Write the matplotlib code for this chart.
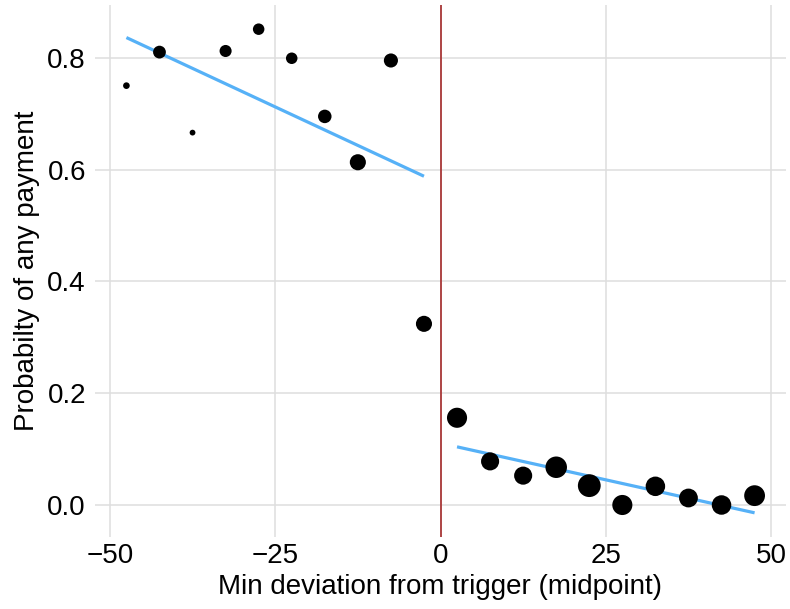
import numpy as np
import matplotlib
matplotlib.use("Agg")
import matplotlib.pyplot as plt

plt.rcParams['font.family'] = ['Liberation Sans', 'DejaVu Sans']

# ---- data ----
bin_mid = [-47.5, -42.5, -37.5, -32.5, -27.5, -22.5, -17.5, -12.5, -7.5, -2.5,
           2.5, 7.5, 12.5, 17.5, 22.5, 27.5, 32.5, 37.5, 42.5, 47.5]
prob_any = [0.750, 0.810, 0.666, 0.812, 0.851, 0.799, 0.695, 0.613, 0.795, 0.324,
            0.156, 0.078, 0.0525, 0.0675, 0.0346, 0.0, 0.0334, 0.0125, 0.0, 0.0167]
n_obs = [11, 76, 10, 63, 54, 54, 90, 153, 103, 153,
         286, 214, 214, 343, 400, 286, 263, 238, 263, 314]
fit_left_x = [-47.5, -2.5]
fit_left_y = [0.836, 0.588]
fit_right_x = [2.5, 47.5]
fit_right_y = [0.104, -0.014]
cutoff = 0.0
xticks = [-50, -25, 0, 25, 50]
yticks = [0.0, 0.2, 0.4, 0.6, 0.8]

DPI = 100
fig = plt.figure(figsize=(7.9, 6.09), dpi=DPI)
ax = fig.add_axes([95/790, 1-537/609, (786-95)/790, (537-5)/609])

# size scale similar to ggplot's area palette
n = np.asarray(n_obs, float)
t = (n - n.min()) / (n.max() - n.min())
d_px = 5.8 + 17 * np.sqrt(t)
d_pt = d_px * 72 / DPI
ax.scatter(bin_mid, prob_any, s=d_pt**2, color='black', linewidths=0, zorder=3)

ax.plot(fit_left_x, fit_left_y, color='#56B1F7', lw=2.3, solid_capstyle='butt', zorder=2)
ax.plot(fit_right_x, fit_right_y, color='#56B1F7', lw=2.3, solid_capstyle='butt', zorder=2)
ax.axvline(cutoff, color='#A52A2A', lw=1.2, zorder=1)

# ggplot-like 5% expansion
xs = np.array(bin_mid)
ys = np.concatenate([prob_any, fit_left_y, fit_right_y])
xr = xs.max() - xs.min()
yr = ys.max() - ys.min()
ax.set_xlim(xs.min() - 0.05*xr, xs.max() + 0.05*xr)
ax.set_ylim(ys.min() - 0.05*yr, ys.max() + 0.05*yr)

ax.set_xticks(xticks)
ax.set_xticklabels(['\u221250', '\u221225', '0', '25', '50'])
ax.set_yticks(yticks)
ax.set_yticklabels([f'{v:.1f}' for v in yticks])
ax.grid(True, color='#DEDEDE', lw=1.1)
ax.set_axisbelow(True)
for s in ax.spines.values():
    s.set_visible(False)
ax.tick_params(length=0, labelsize=20, colors='#000000')
ax.tick_params(axis='x', pad=4)
ax.tick_params(axis='y', pad=6.5)
ax.set_xlabel('Min deviation from trigger (midpoint)', fontsize=20, labelpad=4)
ax.set_ylabel('Probabilty of any payment', fontsize=20, labelpad=5)

fig.savefig('out.png', dpi=DPI, facecolor='white')
